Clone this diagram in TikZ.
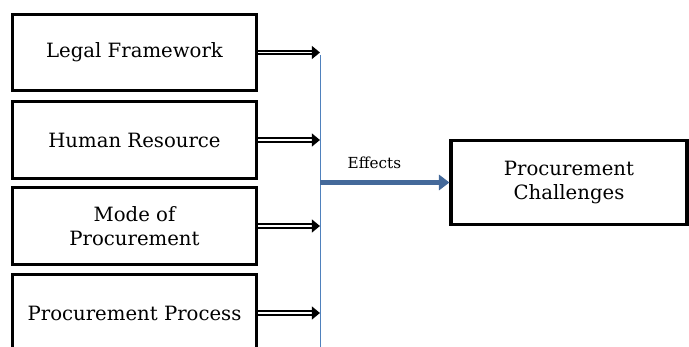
\documentclass[tikz,border=0pt]{standalone}
\usepackage{fontspec}
\setmainfont{DejaVu Serif}
\usetikzlibrary{arrows.meta}
\definecolor{busblue}{HTML}{4F81BD}
\definecolor{effblue}{HTML}{44699A}
\begin{document}
\begin{tikzpicture}[x=0.03cm, y=-0.03cm, line join=miter,
	factor/.style={draw, line width=2.6pt, minimum width=7.32cm, minimum height=2.3cm, align=center, font=\fontsize{16.8}{21}\selectfont},
	outcome/.style={draw, line width=2.6pt, minimum width=7.08cm, minimum height=2.5cm, align=center, font=\fontsize{16.8}{21}\selectfont},
	feed/.style={double, double distance=1.2pt, line width=1.8pt, -{Triangle[length=7pt, width=11pt]}},
	effect/.style={effblue, line width=4.2pt, -{Triangle[length=9pt, width=13pt]}}]
		\useasboundingbox (0,0) rectangle (689,347);
		\coordinate (bustop) at (320,55);
		\coordinate (busbot) at (320,347);
		\node[factor] (legal) at (134.5,52.5) {Legal Framework};
		\node[factor] (human) at (134.5,140) {Human Resource};
		\node[factor] (mode) at (134.5,226) {Mode of\\Procurement};
		\node[factor] (process) at (134.5,313) {Procurement Process};
		\node[outcome] (challenges) at (569,182.5) {Procurement\\Challenges};
		\draw[busblue, line width=0.7pt] (bustop) -- (busbot);
		\foreach \f in {legal,human,mode,process}
			\draw[feed] (\f.east) -- (\f.east -| bustop);
		\coordinate (effstart) at (320,182.5);
		\draw[effect] (effstart) -- (challenges.west) node[pos=0.42, above=6pt, black, font=\fontsize{13}{15}\selectfont] (efflabel) {Effects};
	\end{tikzpicture}
\end{document}
